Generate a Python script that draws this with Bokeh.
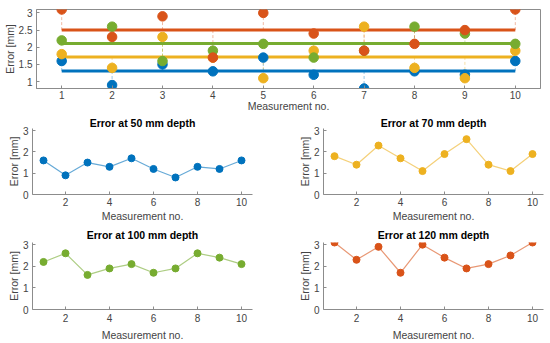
import numpy as np
from bokeh.plotting import figure
from bokeh.layouts import column, row
from bokeh.models import Range1d, FixedTicker, CustomJSTickFormatter
from bokeh.embed import file_html
from bokeh.resources import INLINE

# ---- data ----
measurements = [1, 2, 3, 4, 5, 6, 7, 8, 9, 10]
err_50 = [1.6, 0.9, 1.5, 1.3, 1.7, 1.2, 0.8, 1.3, 1.2, 1.6]
err_70 = [1.8, 1.4, 2.3, 1.7, 1.1, 1.9, 2.6, 1.4, 1.1, 1.9]
err_100 = [2.2, 2.6, 1.6, 1.9, 2.1, 1.7, 1.9, 2.6, 2.4, 2.1]
err_120 = [3.1, 2.3, 2.9, 1.7, 3.0, 2.4, 1.9, 2.1, 2.5, 3.1]
titles = ["Error at 50 mm depth", "Error at 70 mm depth",
          "Error at 100 mm depth", "Error at 120 mm depth"]
top_yticks = [1, 1.5, 2, 2.5, 3]
sub_xticks = [2, 4, 6, 8, 10]
sub_yticks = [0, 1, 2, 3]
x_label = "Measurement no."
y_label = "Error [mm]"

series = [err_50, err_70, err_100, err_120]
colors = ["#0072BD", "#EDB120", "#77AC30", "#D95319"]

FONT = "Liberation Sans"
AXC = "#8c8c8c"
TXT = "#444444"

fmt = CustomJSTickFormatter(code="return tick.toString();")


def style_axis(ax, label_standoff, axis_label_standoff):
    ax.axis_line_color = AXC
    ax.major_tick_line_color = AXC
    ax.major_tick_in = 3
    ax.major_tick_out = 0
    ax.minor_tick_line_color = None
    ax.major_label_text_font = FONT
    ax.major_label_text_font_size = "10px"
    ax.major_label_text_color = TXT
    ax.major_label_text_line_height = 1.0
    ax.axis_label_text_font = FONT
    ax.axis_label_text_font_size = "10.5px"
    ax.axis_label_text_font_style = "normal"
    ax.axis_label_text_color = TXT
    ax.axis_label_text_line_height = 1.0
    ax.major_label_standoff = label_standoff
    ax.axis_label_standoff = axis_label_standoff


# ---- top overview chart ----
p0 = figure(width=550, height=114, x_range=Range1d(0.5, 10.5),
            y_range=Range1d(0.8, 3.1), output_backend="svg",
            toolbar_location=None, min_border_left=32, min_border_right=10,
            min_border_top=9, min_border_bottom=20)
p0.grid.visible = False
p0.outline_line_color = AXC
p0.xaxis.ticker = FixedTicker(ticks=measurements)
p0.yaxis.ticker = FixedTicker(ticks=top_yticks)
p0.yaxis.formatter = fmt
p0.xaxis.axis_label = x_label
p0.yaxis.axis_label = y_label
style_axis(p0.xaxis[0], 2, -2)
style_axis(p0.yaxis[0], 4, 0)

for y, c in zip(series, colors):
    m = float(np.mean(y))
    p0.segment(x0=measurements, y0=[m] * len(y), x1=measurements, y1=y,
               line_color=c, line_alpha=0.4, line_width=1, line_dash="3 2")
for y, c in zip(series, colors):
    m = float(np.mean(y))
    p0.line([measurements[0], measurements[-1]], [m, m], line_color=c,
            line_width=3)
for y, c in zip(series, colors):
    p0.scatter(measurements, y, size=9.5, fill_color=c, line_color=c)


# ---- small subplots ----
def sub(title, y, color, width, left, right, height, top, bottom,
        title_standoff, lab_standoff, xl_standoff):
    p = figure(width=width, height=height, title=title,
               x_range=Range1d(0.5, 10.5), y_range=Range1d(0, 3.1),
               output_backend="svg", toolbar_location=None,
               min_border_left=left, min_border_right=right,
               min_border_top=top, min_border_bottom=bottom)
    p.grid.visible = False
    p.outline_line_color = None
    p.title.text_font = FONT
    p.title.text_font_size = "10.5px"
    p.title.text_font_style = "bold"
    p.title.text_color = "#000000"
    p.title.text_line_height = 1.0
    p.title.align = "center"
    p.title.standoff = title_standoff
    p.line(measurements, y, line_color=color, line_alpha=0.6, line_width=1.2)
    p.scatter(measurements, y, size=7, fill_color=color, line_color=color)
    p.xaxis.ticker = FixedTicker(ticks=sub_xticks)
    p.yaxis.ticker = FixedTicker(ticks=sub_yticks)
    p.xaxis.axis_label = x_label
    p.yaxis.axis_label = y_label
    style_axis(p.xaxis[0], lab_standoff, xl_standoff)
    style_axis(p.yaxis[0], 4, 0)
    return p


p1 = sub(titles[0], err_50, colors[0], 275, 32, 23, 110, 14, 27, -1, 3, 1)
p2 = sub(titles[1], err_70, colors[1], 275, 48, 7, 110, 14, 27, -1, 3, 1)
p3 = sub(titles[2], err_100, colors[2], 275, 32, 23, 119, 18, 33, 3, 4, 4)
p4 = sub(titles[3], err_120, colors[3], 275, 48, 7, 119, 18, 33, 3, 4, 4)

layout = column(p0, row(p1, p2), row(p3, p4))

open("out.html", "w").write(file_html(layout, INLINE))
